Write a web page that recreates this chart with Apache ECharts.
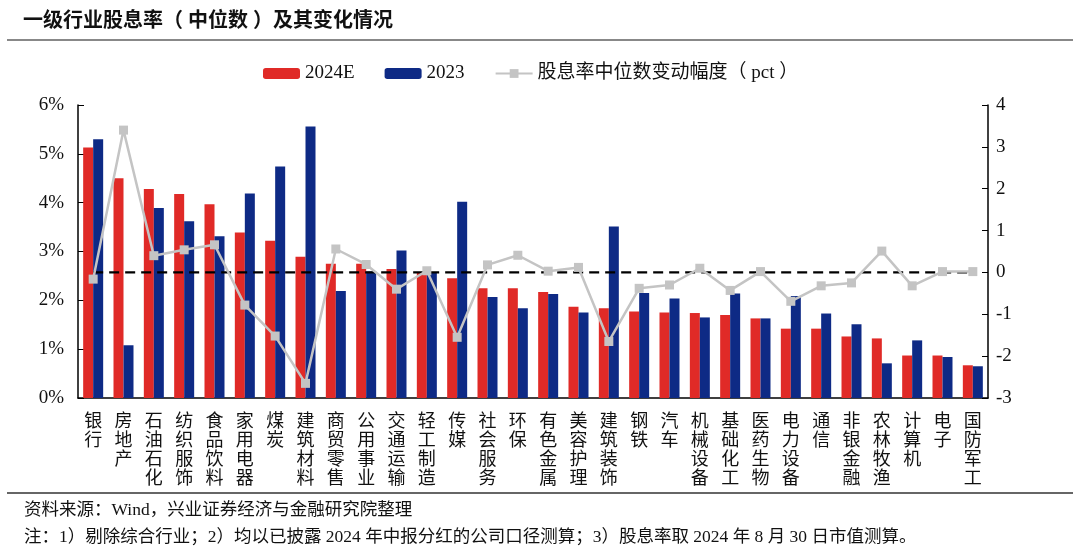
<!DOCTYPE html>
<html>
<head>
<meta charset="utf-8">
<script src="https://cdn.jsdelivr.net/npm/echarts@6/dist/echarts.min.js"></script>
<style>
  html, body { margin: 0; padding: 0; background: #fff; }
  #chart { width: 1080px; height: 552px; }
</style>
</head>
<body>
<div id="chart"></div>
<script>
// industries (SW level-1, 综合 removed)
const categories = ['银行', '房地产', '石油石化', '纺织服饰', '食品饮料', '家用电器', '煤炭', '建筑材料',
  '商贸零售', '公用事业', '交通运输', '轻工制造', '传媒', '社会服务', '环保', '有色金属', '美容护理',
  '建筑装饰', '钢铁', '汽车', '机械设备', '基础化工', '医药生物', '电力设备', '通信', '非银金融',
  '农林牧渔', '计算机', '电子', '国防军工'];

// median dividend yield, %
const yield2024E = [5.13, 4.50, 4.28, 4.18, 3.97, 3.39, 3.22, 2.89, 2.75, 2.75, 2.64, 2.57, 2.45, 2.25,
  2.25, 2.17, 1.87, 1.84, 1.77, 1.75, 1.74, 1.70, 1.63, 1.42, 1.42, 1.26, 1.22, 0.87, 0.87, 0.67];
const yield2023 = [5.30, 1.08, 3.89, 3.62, 3.31, 4.19, 4.74, 5.56, 2.19, 2.59, 3.02, 2.57, 4.02, 2.07,
  1.84, 2.13, 1.75, 3.51, 2.15, 2.04, 1.65, 2.14, 1.63, 2.09, 1.73, 1.51, 0.71, 1.18, 0.84, 0.65];
// change of the median, pct
const yieldChange = [-0.16, 3.40, 0.40, 0.54, 0.66, -0.78, -1.52, -2.65, 0.56, 0.19, -0.40, 0.04, -1.55,
  0.18, 0.41, 0.03, 0.12, -1.65, -0.38, -0.30, 0.10, -0.43, 0.02, -0.69, -0.32, -0.25, 0.51, -0.32, 0.02, 0.02];
// zero reference for the dashed line
const zeroRef = [0, 0, 0, 0, 0, 0, 0, 0, 0, 0, 0, 0, 0, 0, 0, 0, 0, 0, 0, 0, 0, 0, 0, 0, 0, 0, 0, 0, 0, 0];

const leftTicks = { min: 0, max: 6, interval: 1 };
const rightTicks = { min: -3, max: 4, interval: 1 };

const FONT = "'Liberation Serif', 'Noto Sans CJK SC', serif";

const chart = echarts.init(document.getElementById('chart'));

chart.setOption({
  backgroundColor: '#fff',
  animation: false,
  textStyle: { fontFamily: FONT },
  title: [
    {
      text: '一级行业股息率（ 中位数 ）及其变化情况',
      left: 18, top: 7,
      textStyle: { fontSize: 20, fontWeight: 'bold', color: '#111', fontFamily: FONT }
    },
    {
      text: '资料来源：Wind，兴业证券经济与金融研究院整理',
      left: 19, top: 497,
      textStyle: { fontSize: 17.5, fontWeight: 'normal', color: '#111', fontFamily: FONT }
    },
    {
      text: '注：1）剔除综合行业；2）均以已披露 2024 年中报分红的公司口径测算；3）股息率取 2024 年 8 月 30 日市值测算。',
      left: 19, top: 524,
      textStyle: { fontSize: 17.5, fontWeight: 'normal', color: '#111', fontFamily: FONT }
    }
  ],
  graphic: [
    { type: 'line', shape: { x1: 7, y1: 40, x2: 1073, y2: 40 }, style: { stroke: '#888', lineWidth: 2 } },
    { type: 'line', shape: { x1: 7, y1: 493, x2: 1073, y2: 493 }, style: { stroke: '#333', lineWidth: 1.5 } }
  ],
  legend: {
    left: 258, top: 59,
    itemWidth: 37, itemHeight: 11, itemGap: 30,
    textStyle: { fontSize: 19, color: '#111', fontFamily: FONT },
    data: ['2024E', '2023', '股息率中位数变动幅度（ pct ）']
  },
  grid: { left: 78, right: 92, top: 105, bottom: 154 },
  xAxis: {
    type: 'category',
    data: categories,
    axisLine: { lineStyle: { color: '#000', width: 1.5 } },
    axisTick: { show: false },
    axisLabel: {
      interval: 0,
      margin: 13,
      fontSize: 18,
      lineHeight: 19,
      color: '#111',
      verticalAlign: 'top',
      fontFamily: "'Noto Sans CJK SC', sans-serif",
      formatter: v => v.split('').join('\n')
    }
  },
  yAxis: [
    {
      type: 'value',
      min: leftTicks.min, max: leftTicks.max, interval: leftTicks.interval,
      splitLine: { show: false },
      axisLine: { show: true, lineStyle: { color: '#000', width: 1.5 } },
      axisTick: { show: true, inside: true, length: 6, lineStyle: { color: '#000' } },
      axisLabel: { formatter: '{value}%', fontSize: 19, color: '#111', margin: 14, fontFamily: FONT }
    },
    {
      type: 'value',
      min: rightTicks.min, max: rightTicks.max, interval: rightTicks.interval,
      splitLine: { show: false },
      axisLine: { show: true, lineStyle: { color: '#000', width: 1.5 } },
      axisTick: { show: true, inside: true, length: 6, lineStyle: { color: '#000' } },
      axisLabel: { fontSize: 19, color: '#111', margin: 8, fontFamily: FONT }
    }
  ],
  series: [
    {
      name: '2024E', type: 'bar', data: yield2024E,
      barWidth: 10, barGap: '0%',
      itemStyle: { color: '#E02A27' }
    },
    {
      name: '2023', type: 'bar', data: yield2023,
      barWidth: 10, barGap: '0%',
      itemStyle: { color: '#0E2A85' }
    },
    {
      name: 'zero', type: 'line', yAxisIndex: 1, data: zeroRef,
      symbol: 'none', silent: true, z: 3,
      lineStyle: { color: '#000', width: 2.2, type: [10, 6] }
    },
    {
      name: '股息率中位数变动幅度（ pct ）', type: 'line', yAxisIndex: 1, data: yieldChange,
      symbol: 'rect', symbolSize: 9, z: 4,
      lineStyle: { color: '#C4C4C4', width: 2.5 },
      itemStyle: { color: '#C4C4C4' }
    }
  ]
});
</script>
</body>
</html>
